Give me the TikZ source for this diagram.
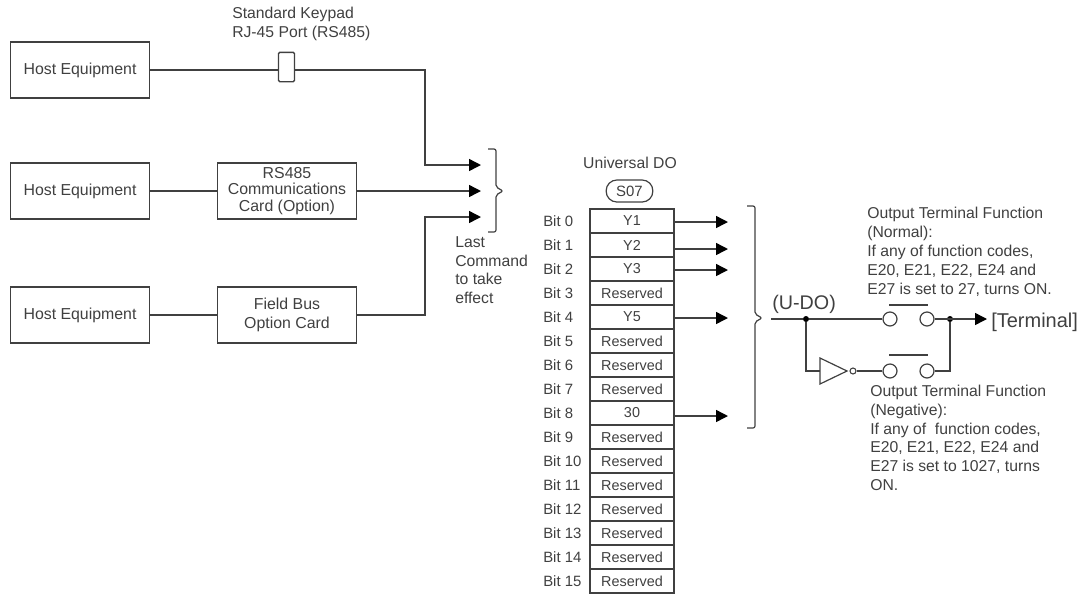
\documentclass[tikz,border=0pt]{standalone}
\usepackage{fontspec}
\setmainfont{Liberation Sans}
\usetikzlibrary{arrows.meta,calc}
\definecolor{ink}{gray}{0.25}
\tikzset{
  x=0.75pt,y=-0.75pt,
  wire/.style={draw=ink,line width=1.1pt},
  arr/.style={wire,-{Triangle[length=9pt,width=9pt,color=black,fill=black]}},
  hostbox/.style={draw=ink,line width=1.1pt,minimum width=104pt,minimum height=42pt,inner sep=0pt,align=center,font=\fontsize{11.9pt}{12.6pt}\selectfont,text=ink},
  reg/.style={draw=ink,line width=1pt,minimum width=63pt,minimum height=18pt,inner sep=0pt,font=\fontsize{10.8pt}{12pt}\selectfont,text=ink},
  lbl/.style={inner sep=0pt,align=left,font=\fontsize{11.8pt}{14.2pt}\selectfont,text=ink},
  bitl/.style={inner sep=0pt,anchor=west,font=\fontsize{11.2pt}{12pt}\selectfont,text=ink},
  contact/.style={circle,draw=ink,line width=0.9pt,minimum size=10.5pt,inner sep=0pt},
  jdot/.style={circle,fill=black,minimum size=4.5pt,inner sep=0pt},
  brace/.style={draw=ink,line width=0.9pt,rounded corners=1.5pt},
}
\begin{document}
\begin{tikzpicture}
\useasboundingbox (0,0) rectangle (1082,594);
\node[hostbox] (h1) at (80,70) {Host Equipment};
\node[hostbox] (h2) at (80,191) {Host Equipment};
\node[hostbox] (h3) at (80,315) {Host Equipment};
\node[hostbox] (rs) at (287,191) {RS485\\Communications\\Card (Option)};
\node[hostbox] (fb) at (287,315) {Field Bus\\[2pt]Option Card};
\node[draw=ink,line width=1pt,rounded corners=1pt,minimum width=12pt,minimum height=22pt,inner sep=0pt] (rj) at (286.5,67) {};
\node[lbl,anchor=north west] (rjl) at (232,7) {Standard Keypad\\RJ-45 Port (RS485)};
\coordinate (m1) at (481,165);
\coordinate (m2) at (481,191);
\coordinate (m3) at (481,217);
\draw[wire] (h1) -- (rj.west|-h1);
\draw[arr] (rj.east|-h1) -- (425,70) -- (425,165) -- (m1);
\draw[wire] (h2) -- (rs);
\draw[arr] (rs) -- (m2);
\draw[wire] (h3) -- (fb);
\draw[arr] (fb.east) -- (425,315) -- (425,217) -- (m3);
\draw[brace] (488,149) -- (496,149) -- (496,187) -- (503,191) -- (496,195) -- (496,232) -- (488,232);
\node[lbl,anchor=north west] (lc) at (455,236) {Last\\Command\\to take\\effect};
\node[inner sep=0pt,font=\fontsize{11.8pt}{12pt}\selectfont,text=ink] (ud) at (630,163) {Universal DO};
\node[draw=ink,line width=0.9pt,rounded corners=8pt,minimum width=35pt,minimum height=16.5pt,inner sep=0pt,font=\fontsize{11.2pt}{12pt}\selectfont,text=ink] (s07) at (629.5,191) {S07};
\foreach \i/\t in {0/Y1,1/Y2,2/Y3,3/Reserved,4/Y5,5/Reserved,6/Reserved,7/Reserved,8/30,9/Reserved,10/Reserved,11/Reserved,12/Reserved,13/Reserved,14/Reserved,15/Reserved}{
  \node[reg] (r\i) at (632,{221+24*\i}) {\t};
  \node[bitl] (b\i) at (543,{221+24*\i}) {Bit \i};
}
\coordinate (t0) at (728,222);
\coordinate (t1) at (728,249);
\coordinate (t2) at (728,270);
\coordinate (t4) at (728,318);
\coordinate (t8) at (728,416);
\draw[arr] (r0.east|-t0) -- (t0);
\draw[arr] (r1.east|-t1) -- (t1);
\draw[arr] (r2.east|-t2) -- (t2);
\draw[arr] (r4.east|-t4) -- (t4);
\draw[arr] (r8.east|-t8) -- (t8);
\draw[brace] (747,206) -- (755,206) -- (755,314) -- (762,318) -- (755,322) -- (755,428) -- (747,428);
\coordinate (u) at (771,319);
\node[inner sep=0pt,anchor=south west,font=\fontsize{14.8pt}{16pt}\selectfont,text=ink] (udl) at (772,314) {(U-DO)};
\node[jdot] (d1) at (806,319) {};
\node[contact] (c1) at (890,319) {};
\node[contact] (c2) at (927,319) {};
\node[contact] (c3) at (890,371) {};
\node[contact] (c4) at (927,371) {};
\node[jdot] (d2) at (950,319) {};
\coordinate (t) at (987,319);
\node[inner sep=0pt,anchor=west,font=\fontsize{15pt}{16pt}\selectfont,text=ink] (tl) at (991,322) {[Terminal]};
\draw[wire] (u) -- (d1) -- (c1);
\draw[arr] (c2) -- (t);
\draw[wire] (c4) -- (950,371) -- (d2);
\coordinate (inv) at (820,371);
\draw[draw=ink,line width=0.9pt] (820,358) -- (847,371) -- (820,384) -- cycle;
\node[circle,draw=ink,line width=0.8pt,minimum size=4.5pt,inner sep=0pt] (bub) at (853,371) {};
\draw[wire] (d1) -- (806,371) -- (inv);
\draw[wire] (bub) -- (c3);
\draw[draw=ink,line width=0.9pt] (889,305) -- (928,305) (889,355) -- (928,355);
\node[lbl,anchor=north west] (n1) at (867,207) {Output Terminal Function\\(Normal):\\If any of function codes,\\E20, E21, E22, E24 and\\E27 is set to 27, turns ON.};
\node[lbl,anchor=north west] (n2) at (870,384.5) {Output Terminal Function\\(Negative):\\If any of\ \ function codes,\\E20, E21, E22, E24 and\\E27 is set to 1027, turns\\ON.};
\end{tikzpicture}
\end{document}
